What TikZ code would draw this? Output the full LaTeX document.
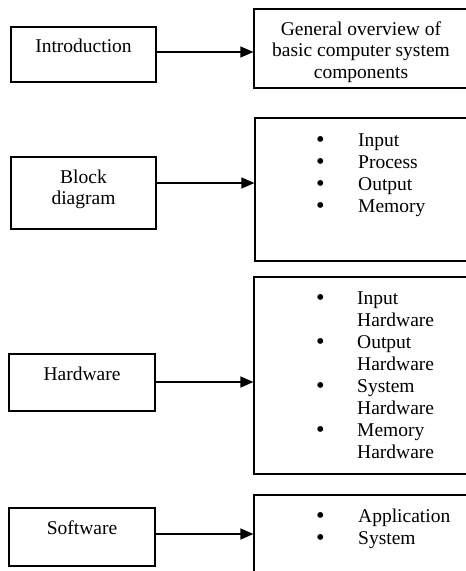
\documentclass[tikz,border=0pt]{standalone}
\usepackage{fontspec}
\setmainfont{Liberation Serif}
\usetikzlibrary{arrows.meta}
\newcommand{\mybul}{\smash{\raisebox{-1pt}{\scalebox{1.25}{\textbullet}}}}
\begin{document}
\begin{tikzpicture}[x=1pt,y=-1pt,
  box/.style={draw, line width=1.2pt, inner sep=0pt},
  lbl/.style={inner sep=0pt, font=\fontsize{19.5}{21.5}\selectfont, anchor=base},
  lst/.style={inner sep=0pt, font=\fontsize{19.5}{22}\selectfont, anchor=base west},
  arr/.style={line width=1.2pt, -{Triangle[length=13pt,width=11pt]}}]
\useasboundingbox (0,0) rectangle (466,571);
\clip (0,0) rectangle (466,571);
% left boxes
\node[box, minimum width=145pt, minimum height=55pt] (intro) at (83.5,54.5) {};
\node[box, minimum width=145pt, minimum height=72pt] (blk) at (83.5,193) {};
\node[box, minimum width=146pt, minimum height=57pt] (hw) at (82,382.5) {};
\node[box, minimum width=146pt, minimum height=58pt] (sw) at (82,537) {};
% right boxes
\node[box, minimum width=216pt, minimum height=79pt] (r1) at (362,48.5) {};
\node[box, minimum width=215pt, minimum height=143pt] (r2) at (362.5,189.5) {};
\node[box, minimum width=216pt, minimum height=197pt] (r3) at (362,375.5) {};
\node[box, minimum width=216pt, minimum height=105pt] (r4) at (362,547.5) {};
% labels
\node[lbl] (tintro) at (83.5,52) {Introduction};
\node[lbl] (tblk) at (83.5,183) {\begin{tabular}[t]{@{}c@{}}Block\\diagram\end{tabular}};
\node[lbl] (thw) at (82,380) {Hardware};
\node[lbl] (tsw) at (82,534) {Software};
\node[lbl] (tr1) at (361,35) {\begin{tabular}[t]{@{}c@{}}General overview of\\basic computer system\\components\end{tabular}};
\node[lst] (l2) at (316,146) {\begin{tabular}[t]{@{}p{42pt}@{}l@{}}\mybul & Input\\ \mybul & Process\\ \mybul & Output\\ \mybul & Memory\end{tabular}};
\node[lst] (l3) at (316,304) {\begin{tabular}[t]{@{}p{41pt}@{}l@{}}\mybul & Input\\ & Hardware\\ \mybul & Output\\ & Hardware\\ \mybul & System\\ & Hardware\\ \mybul & Memory\\ & Hardware\end{tabular}};
\node[lst] (l4) at (316,522) {\begin{tabular}[t]{@{}p{42pt}@{}l@{}}\mybul & Application\\ \mybul & System\end{tabular}};
% arrows
\draw[arr] (intro.east |- 0,52) -- (r1.west |- 0,52);
\draw[arr] (blk.east |- 0,183) -- (r2.west |- 0,183);
\draw[arr] (hw.east |- 0,382) -- (r3.west |- 0,382);
\draw[arr] (sw.east |- 0,534) -- (r4.west |- 0,534);
\end{tikzpicture}
\end{document}
